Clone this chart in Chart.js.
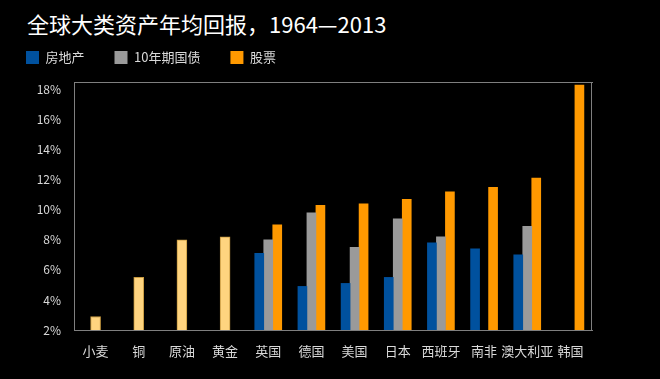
<!DOCTYPE html>
<html>
<head>
<meta charset="utf-8">
<script src="https://cdn.jsdelivr.net/npm/chart.js@4"></script>
<style>
  html, body { margin: 0; padding: 0; background: #000; }
  #wrap { position: relative; width: 660px; height: 379px; }
  #title {
    position: absolute; left: 27px; top: 7px;
    color: #fff; font: 22px "Noto Sans CJK SC", sans-serif; white-space: nowrap;
  }
  canvas { position: absolute; left: 0; top: 0; }
</style>
</head>
<body>
<div id="wrap">
  <div id="title">全球大类资产年均回报，1964—2013</div>
  <canvas id="returnsChart" width="660" height="379"></canvas>
</div>
<script>
// categories: 4 commodities then 8 countries
const categories = ['小麦', '铜', '原油', '黄金', '英国', '德国', '美国', '日本', '西班牙', '南非', '澳大利亚', '韩国'];

// annual return, %
const commodity = [2.9, 5.5, 8.0, 8.2, null, null, null, null, null, null, null, null];
const realEstate = [null, null, null, null, 7.1, 4.9, 5.1, 5.5, 7.8, 7.4, 7.0, null];
const bonds10y = [null, null, null, null, 8.0, 9.8, 7.5, 9.4, 8.2, null, 8.9, null];
const stocks = [null, null, null, null, 9.0, 10.3, 10.4, 10.7, 11.2, 11.5, 12.1, 18.3];

const yTicks = [2, 4, 6, 8, 10, 12, 14, 16, 18];

const FONT = '"Noto Sans CJK SC", sans-serif';

// frame around the plot area
const frame = {
    id: 'frame',
    beforeDatasetsDraw(chart) {
        const a = chart.chartArea;
        const ctx = chart.ctx;
        ctx.save();
        ctx.strokeStyle = '#7f7f7f';
        ctx.lineWidth = 1;
        ctx.strokeRect(a.left + 0.5, a.top + 0.5, a.right - a.left - 1, a.bottom - a.top);
        ctx.restore();
    }
};

const ctx = document.getElementById('returnsChart').getContext('2d');
new Chart(ctx, {
    type: 'bar',
    data: {
        labels: categories,
        datasets: [
            {
                label: '房地产',
                data: realEstate,
                backgroundColor: '#00519e',
                barThickness: 9
            },
            {
                label: '10年期国债',
                data: bonds10y,
                backgroundColor: '#9a9a9a',
                barThickness: 9
            },
            {
                label: '股票',
                data: stocks,
                backgroundColor: '#ff9900',
                barThickness: 9
            },
            {
                label: '商品',
                data: commodity,
                backgroundColor: '#ffd47f',
                borderColor: '#c89a40',
                borderWidth: 1,
                barThickness: 10,
                grouped: false
            }
        ]
    },
    options: {
        responsive: false,
        animation: false,
        layout: { padding: { left: -4, right: 68, top: 21, bottom: 0 } },
        plugins: {
            legend: {
                position: 'top',
                align: 'start',
                labels: {
                    color: '#d9d9d9',
                    font: { family: FONT, size: 13 },
                    boxWidth: 13,
                    boxHeight: 13,
                    padding: 30,
                    filter: item => item.datasetIndex < 3
                }
            },
            tooltip: { enabled: false }
        },
        scales: {
            x: {
                grid: { display: false },
                border: { color: '#7f7f7f' },
                ticks: {
                    color: '#d9d9d9',
                    font: { family: FONT, size: 13 },
                    padding: 5,
                    maxRotation: 0,
                    autoSkip: false
                },
                afterFit: s => { s.height = 49; }
            },
            // empty top axis: spacing under the legend, carries the top frame line
            xTop: {
                position: 'top',
                grid: { display: false },
                border: { color: '#7f7f7f' },
                ticks: { display: false },
                afterFit: s => { s.height = 8; }
            },
            y: {
                min: 2,
                max: 18.5,
                grid: { display: false },
                border: { color: '#7f7f7f' },
                afterBuildTicks: s => { s.ticks = yTicks.map(v => ({ value: v })); },
                ticks: {
                    color: '#d9d9d9',
                    font: { family: FONT, size: 12 },
                    padding: 5,
                    callback: v => v + '%'
                },
                afterFit: s => { s.width = 78; }
            }
        }
    },
    plugins: [frame]
});
</script>
</body>
</html>
